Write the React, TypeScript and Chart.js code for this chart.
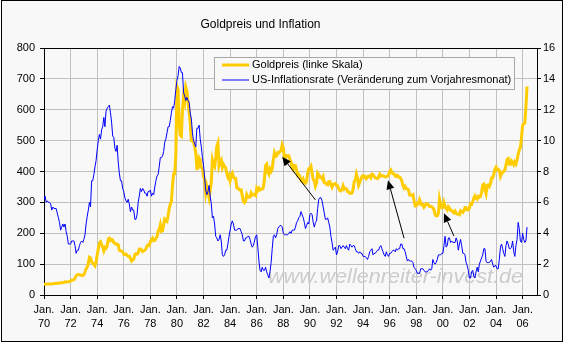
import { useEffect, useRef } from 'react';
import { Chart, registerables } from 'chart.js';

Chart.register(...registerables);

// Tick labels for the month axis (every 24 months, starting Jan 1970)
const yearLabels = ['70', '72', '74', '76', '78', '80', '82', '84', '86', '88', '90', '92', '94', '96', '98', '00', '02', '04', '06'];

// Gold price (USD/oz, monthly), by decade
const gold1970s = [
  34.9, 35.0, 35.1, 35.6, 35.9, 35.4, 35.3, 35.4, 36.2, 37.5, 37.4, 37.4,
  37.9, 38.7, 38.9, 39.0, 40.5, 40.1, 41.0, 42.7, 42.0, 42.5, 42.9, 43.5,
  45.7, 48.3, 48.3, 49.0, 54.6, 62.1, 65.7, 67.0, 65.5, 64.9, 62.9, 63.9,
  65.1, 74.2, 84.4, 90.5, 102.0, 122.5, 120.2, 106.8, 103.0, 100.1, 94.8, 106.7,
  129.2, 150.2, 168.4, 172.2, 163.3, 154.1, 143.0, 154.6, 151.8, 158.8, 181.7, 183.9,
  176.3, 179.6, 178.2, 170.0, 167.0, 164.2, 165.2, 163.1, 144.6, 142.8, 142.4, 139.3,
  131.5, 131.0, 132.4, 128.2, 125.8, 125.7, 117.6, 109.9, 114.2, 116.0, 130.6, 133.7,
  132.3, 136.3, 148.3, 149.2, 146.6, 140.8, 143.4, 144.8, 149.6, 159.2, 162.4, 160.5,
  173.2, 178.2, 183.7, 175.4, 176.3, 183.8, 188.7, 206.1, 212.9, 227.8, 206.1, 207.8,
  227.3, 245.7, 242.1, 239.2, 257.6, 279.1, 294.7, 300.8, 355.1, 391.7, 392.5, 455.1,
];
const gold1980s = [
  675.3, 665.3, 553.6, 517.4, 513.8, 600.7, 644.3, 627.0, 673.6, 661.2, 623.5, 594.9,
  557.4, 500.5, 499.8, 495.8, 479.7, 460.8, 409.3, 410.2, 443.6, 437.8, 413.4, 410.1,
  384.3, 374.1, 330.2, 350.5, 333.9, 314.9, 339.1, 364.9, 436.5, 422.3, 415.6, 444.6,
  481.3, 491.8, 419.7, 432.8, 438.4, 413.0, 422.9, 416.3, 411.8, 393.6, 381.7, 388.0,
  370.9, 386.8, 394.2, 381.3, 377.6, 377.7, 347.7, 347.7, 341.1, 340.2, 341.0, 320.1,
  302.7, 299.1, 304.0, 324.9, 316.6, 316.5, 317.4, 330.5, 323.6, 325.3, 325.3, 322.4,
  345.4, 338.9, 345.7, 340.4, 342.5, 342.8, 348.4, 376.4, 418.8, 423.4, 398.5, 391.3,
  408.3, 401.1, 408.9, 438.6, 460.1, 449.0, 450.5, 461.3, 460.1, 465.4, 467.6, 486.5,
  477.1, 442.1, 443.6, 451.4, 451.3, 451.3, 437.5, 431.3, 413.4, 406.8, 419.9, 418.9,
  404.0, 387.8, 390.2, 384.4, 371.1, 367.6, 375.1, 365.4, 361.9, 366.8, 393.9, 409.3,
];
const gold1990s = [
  410.1, 416.8, 393.1, 374.3, 369.1, 352.4, 362.5, 394.7, 389.3, 381.1, 381.8, 376.6,
  383.6, 363.8, 363.3, 358.4, 356.9, 366.7, 367.7, 356.2, 348.9, 358.7, 359.8, 361.0,
  354.5, 353.9, 344.3, 338.6, 337.1, 340.8, 353.1, 342.9, 345.4, 344.4, 335.0, 334.8,
  329.0, 329.3, 330.1, 342.2, 367.2, 371.9, 392.0, 378.8, 355.3, 364.2, 373.8, 383.3,
  387.0, 382.0, 384.0, 377.3, 381.4, 385.6, 385.5, 380.4, 391.6, 389.8, 384.4, 379.3,
  378.6, 376.8, 382.1, 391.0, 385.2, 387.6, 386.2, 383.7, 383.1, 383.1, 385.3, 387.4,
  400.0, 404.8, 396.2, 392.9, 392.0, 385.3, 383.5, 387.5, 383.1, 381.1, 377.9, 369.3,
  354.6, 346.6, 351.8, 344.5, 343.8, 340.8, 324.1, 324.0, 322.8, 324.9, 306.0, 288.7,
  289.1, 297.5, 295.9, 308.4, 299.1, 292.3, 292.9, 284.1, 288.9, 296.1, 294.1, 291.6,
  287.1, 287.2, 286.0, 282.6, 276.4, 261.3, 256.1, 256.7, 264.7, 310.7, 293.2, 283.1,
];
const gold2000s = [
  284.3, 299.9, 286.4, 279.7, 275.3, 285.7, 281.6, 274.5, 273.7, 270.0, 266.0, 271.5,
  265.5, 261.9, 263.0, 260.5, 272.4, 270.2, 267.5, 272.4, 283.4, 283.1, 276.2, 275.9,
  281.7, 295.5, 294.0, 302.7, 314.5, 321.2, 313.3, 310.3, 319.2, 316.6, 319.1, 332.6,
  356.9, 359.0, 340.6, 328.2, 355.7, 356.4, 351.0, 359.8, 378.9, 378.9, 389.9, 407.6,
  414.0, 405.3, 406.7, 403.0, 383.8, 392.4, 398.1, 400.5, 405.3, 420.5, 439.4, 441.8,
  424.0, 423.4, 434.2, 428.9, 421.9, 430.7, 424.5, 437.9, 456.0, 469.9, 476.7, 509.8,
  549.9, 555.0, 557.1, 610.6, 675.4,
];

// US inflation rate (% change vs. same month of previous year), by decade
const infl1970s = [
  6.2, 6.4, 6.0, 6.1, 6.0, 6.0, 5.9, 5.5, 5.7, 5.6, 5.6, 5.6,
  5.3, 5.0, 4.7, 4.2, 4.4, 4.6, 4.4, 4.6, 4.1, 3.8, 3.3, 3.3,
  3.3, 3.5, 3.5, 3.5, 3.2, 2.7, 2.9, 2.9, 3.2, 3.4, 3.5, 3.4,
  3.6, 3.9, 4.6, 5.1, 5.5, 6.0, 5.7, 7.4, 7.4, 7.8, 8.3, 8.7,
  9.4, 10.0, 10.4, 10.1, 10.7, 10.9, 11.5, 10.9, 11.9, 12.1, 12.2, 12.3,
  11.8, 11.2, 10.3, 10.2, 9.5, 9.3, 9.7, 8.6, 7.9, 7.4, 7.4, 6.9,
  6.7, 6.3, 6.1, 6.0, 6.2, 5.9, 5.4, 5.7, 5.5, 5.5, 4.9, 4.9,
  5.2, 6.0, 6.4, 6.9, 6.7, 6.9, 6.8, 6.6, 6.6, 6.4, 6.7, 6.7,
  6.8, 6.4, 6.6, 6.5, 7.0, 7.4, 7.7, 7.8, 8.3, 8.9, 8.9, 9.0,
  9.3, 9.9, 10.1, 10.5, 10.9, 10.9, 11.3, 11.8, 12.2, 12.1, 12.6, 13.3,
];
const infl1980s = [
  13.9, 14.2, 14.8, 14.7, 14.4, 14.4, 13.1, 12.9, 12.6, 12.8, 12.6, 12.5,
  11.8, 11.4, 10.5, 10.0, 9.8, 9.6, 10.8, 10.8, 11.0, 10.1, 9.6, 8.9,
  8.4, 7.6, 6.8, 6.5, 6.7, 7.1, 6.4, 5.9, 5.0, 5.1, 4.6, 3.8,
  3.7, 3.5, 3.6, 3.9, 3.5, 2.6, 2.5, 2.6, 2.9, 2.9, 3.3, 3.8,
  4.2, 4.6, 4.8, 4.6, 4.2, 4.2, 4.2, 4.3, 4.3, 4.3, 4.1, 3.9,
  3.5, 3.5, 3.7, 3.7, 3.8, 3.8, 3.6, 3.3, 3.1, 3.2, 3.5, 3.8,
  3.9, 3.1, 2.2, 1.6, 1.5, 1.8, 1.6, 1.6, 1.8, 1.5, 1.3, 1.1,
  1.5, 2.1, 3.0, 3.8, 3.9, 3.7, 3.9, 4.3, 4.4, 4.5, 4.5, 4.4,
  4.0, 3.9, 3.9, 3.9, 3.9, 4.0, 4.1, 4.0, 4.2, 4.2, 4.2, 4.4,
  4.7, 4.8, 5.0, 5.1, 5.4, 5.2, 5.0, 4.7, 4.3, 4.5, 4.7, 4.6,
];
const infl1990s = [
  5.2, 5.3, 5.2, 4.7, 4.4, 4.7, 4.8, 5.6, 6.2, 6.3, 6.3, 6.1,
  5.7, 5.3, 4.9, 4.9, 5.0, 4.7, 4.4, 3.8, 3.4, 2.9, 3.0, 3.1,
  2.6, 2.8, 3.2, 3.2, 3.0, 3.1, 3.2, 3.1, 3.0, 3.2, 3.0, 2.9,
  3.3, 3.2, 3.1, 3.2, 3.2, 3.0, 2.8, 2.8, 2.7, 2.8, 2.7, 2.7,
  2.5, 2.5, 2.5, 2.4, 2.3, 2.5, 2.8, 2.9, 3.0, 2.6, 2.7, 2.7,
  2.8, 2.9, 2.9, 3.1, 3.2, 3.0, 2.8, 2.6, 2.5, 2.8, 2.6, 2.5,
  2.7, 2.7, 2.8, 2.9, 2.9, 2.8, 3.0, 2.9, 3.0, 3.0, 3.3, 3.3,
  3.0, 3.0, 2.8, 2.5, 2.2, 2.3, 2.2, 2.2, 2.2, 2.1, 1.8, 1.7,
  1.6, 1.4, 1.4, 1.4, 1.7, 1.7, 1.7, 1.6, 1.5, 1.5, 1.5, 1.6,
  1.7, 1.6, 1.7, 2.3, 2.1, 2.0, 2.1, 2.3, 2.6, 2.6, 2.6, 2.7,
];
const infl2000s = [
  2.7, 3.2, 3.8, 3.1, 3.2, 3.7, 3.7, 3.4, 3.5, 3.4, 3.4, 3.4,
  3.7, 3.5, 2.9, 3.3, 3.6, 3.2, 2.7, 2.7, 2.6, 2.1, 1.9, 1.6,
  1.1, 1.1, 1.5, 1.6, 1.2, 1.1, 1.5, 1.8, 1.5, 2.0, 2.2, 2.4,
  2.6, 3.0, 3.0, 2.2, 2.1, 2.1, 2.1, 2.2, 2.3, 2.0, 1.8, 1.9,
  1.9, 1.7, 1.7, 2.3, 3.1, 3.3, 3.0, 2.7, 2.5, 3.2, 3.5, 3.3,
  3.0, 3.0, 3.1, 3.5, 2.8, 2.5, 3.2, 3.6, 4.7, 4.3, 3.5, 3.4,
  4.0, 3.6, 3.4, 3.5, 4.4,
];

// Arrow annotations in data units: [month index since Jan 1970, gold scale value]
const arrowTails = [[245, 308], [325, 184], [370, 191]];
const arrowHeads = [[215, 448], [310.5, 372], [361, 265]];

const goldLabel = 'Goldpreis (linke Skala)';
const inflLabel = 'US-Inflationsrate (Veränderung zum Vorjahresmonat)';
const titleText = 'Goldpreis und Inflation';
const watermarkText = 'www.wellenreiter-invest.de';

const FONT = '"Liberation Sans", Arial, sans-serif';
const GOLD = '#FFCC00';
const BLUE = '#0000FF';
const BG = '#F8F8F8';
const GRID = '#C0C0C0';

const goldAll = [...gold1970s, ...gold1980s, ...gold1990s, ...gold2000s];
const inflAll = [...infl1970s, ...infl1980s, ...infl1990s, ...infl2000s];

const decorPlugin = {
  id: 'decor',
  beforeDraw(chart: any) {
    const { ctx, width, height } = chart;
    ctx.save();
    ctx.fillStyle = '#FFFFFF';
    ctx.fillRect(0, 0, width, height);
    ctx.fillStyle = BG;
    ctx.fillRect(1, 0, width - 2, height - 1);
    ctx.restore();
  },
  beforeDatasetsDraw(chart: any) {
    const { ctx } = chart;
    ctx.save();
    ctx.font = `italic 20px ${FONT}`;
    const w = ctx.measureText(watermarkText).width;
    const target = 255;
    ctx.translate(268, 283);
    ctx.scale(target / w, 1);
    ctx.fillStyle = '#CCCCCC';
    ctx.textBaseline = 'alphabetic';
    ctx.textAlign = 'left';
    ctx.fillText(watermarkText, 0, 0);
    ctx.restore();
  },
  afterDatasetsDraw(chart: any) {
    const { ctx, chartArea } = chart;
    const xs = chart.scales.x;
    const ys = chart.scales.y;
    // arrows
    ctx.save();
    ctx.strokeStyle = '#000';
    ctx.fillStyle = '#000';
    ctx.lineWidth = 1;
    arrowTails.forEach((t, i) => {
      const h = arrowHeads[i];
      const x1 = xs.getPixelForValue(t[0]);
      const y1 = ys.getPixelForValue(t[1]);
      const x2 = xs.getPixelForValue(h[0]);
      const y2 = ys.getPixelForValue(h[1]);
      const ang = Math.atan2(y2 - y1, x2 - x1);
      const len = 9;
      const hw = 4;
      const bx = x2 - len * Math.cos(ang);
      const by = y2 - len * Math.sin(ang);
      ctx.beginPath();
      ctx.moveTo(x1, y1);
      ctx.lineTo(bx, by);
      ctx.stroke();
      ctx.beginPath();
      ctx.moveTo(x2, y2);
      ctx.lineTo(bx + hw * Math.sin(ang), by - hw * Math.cos(ang));
      ctx.lineTo(bx - hw * Math.sin(ang), by + hw * Math.cos(ang));
      ctx.closePath();
      ctx.fill();
    });
    ctx.restore();

    // legend box inside plot
    ctx.save();
    const lx = 214.5, ly = 57.5, lw = 300, lh = 32;
    ctx.fillStyle = BG;
    ctx.fillRect(lx, ly, lw, lh);
    ctx.strokeStyle = '#A8A8A8';
    ctx.lineWidth = 1;
    ctx.strokeRect(lx, ly, lw, lh);
    const items = chart.data.datasets;
    const order = [items[1], items[0]];
    order.forEach((ds: any, i: number) => {
      const yy = 65 + i * 15;
      ctx.strokeStyle = ds.borderColor;
      ctx.lineWidth = ds.borderWidth;
      ctx.beginPath();
      ctx.moveTo(222, yy);
      ctx.lineTo(249, yy);
      ctx.stroke();
      ctx.fillStyle = '#000';
      ctx.font = `11px ${FONT}`;
      ctx.textBaseline = 'middle';
      ctx.textAlign = 'left';
      ctx.fillText(ds.label, 252, yy);
    });
    ctx.restore();
  },
  afterDraw(chart: any) {
    const { ctx, width, height } = chart;
    ctx.save();
    ctx.fillStyle = '#000';
    ctx.font = `12px ${FONT}`;
    ctx.textAlign = 'center';
    ctx.textBaseline = 'middle';
    ctx.fillText(titleText, 260.5, 25);
    ctx.strokeStyle = '#000';
    ctx.lineWidth = 1;
    ctx.strokeRect(1.5, 0.5, width - 3, height - 2);
    ctx.restore();
  },
};

export default function App() {
  const ref = useRef<HTMLCanvasElement>(null);
  useEffect(() => {
    document.body.style.margin = '0';
    const canvas = ref.current!;
    const chart = new Chart(canvas, {
      type: 'line',
      data: {
        datasets: [
          {
            label: inflLabel,
            data: inflAll.map((v, i) => ({ x: i, y: v })),
            borderColor: BLUE,
            backgroundColor: BLUE,
            borderWidth: 1,
            pointRadius: 0,
            tension: 0,
            yAxisID: 'y2',
            order: 0,
          },
          {
            label: goldLabel,
            data: goldAll.map((v, i) => ({ x: i, y: v })),
            borderColor: GOLD,
            backgroundColor: GOLD,
            borderWidth: 3,
            pointRadius: 0,
            tension: 0,
            yAxisID: 'y',
            order: 1,
          },
        ],
      },
      options: {
        responsive: false,
        animation: false,
        devicePixelRatio: 1,
        layout: { padding: { top: 48, left: 0, right: 0, bottom: 0 } },
        plugins: {
          legend: { display: false },
          title: { display: false },
          tooltip: { enabled: false },
        },
        scales: {
          x: {
            type: 'linear',
            min: 0,
            max: 445,
            afterFit: (s: any) => { s.height = 48; },
            afterBuildTicks: (s: any) => {
              s.ticks = yearLabels.map((_, i) => ({ value: i * 24 }));
            },
            ticks: {
              autoSkip: false,
              maxRotation: 0,
              padding: 4,
              color: '#000',
              font: { family: FONT, size: 11, lineHeight: 1.3 },
              callback: (v: any) => ['Jan.', yearLabels[Math.round(Number(v) / 24)]],
            },
            grid: {
              color: (c: any) => (c.tick && c.tick.value === 0 ? '#000' : GRID),
              tickColor: '#000',
              tickLength: 4,
            },
            border: { color: '#000' },
          },
          y: {
            position: 'left',
            min: 0,
            max: 800,
            afterFit: (s: any) => { s.width = 44; },
            ticks: {
              stepSize: 100,
              padding: 5,
              color: '#000',
              font: { family: FONT, size: 11 },
            },
            grid: {
              color: (c: any) => (c.tick && c.tick.value === 800 ? '#000' : GRID),
              tickColor: '#000',
              tickLength: 4,
            },
            border: { color: '#000' },
          },
          y2: {
            position: 'right',
            min: 0,
            max: 16,
            afterFit: (s: any) => { s.width = 27; },
            ticks: {
              stepSize: 2,
              padding: 2,
              color: '#000',
              font: { family: FONT, size: 11 },
            },
            grid: {
              drawOnChartArea: false,
              tickColor: '#000',
              tickLength: 4,
            },
            border: { color: '#000' },
          },
        },
      },
      plugins: [decorPlugin],
    } as any);
    return () => chart.destroy();
  }, []);
  return <canvas ref={ref} width={564} height={343} style={{ display: 'block' }} />;
}
